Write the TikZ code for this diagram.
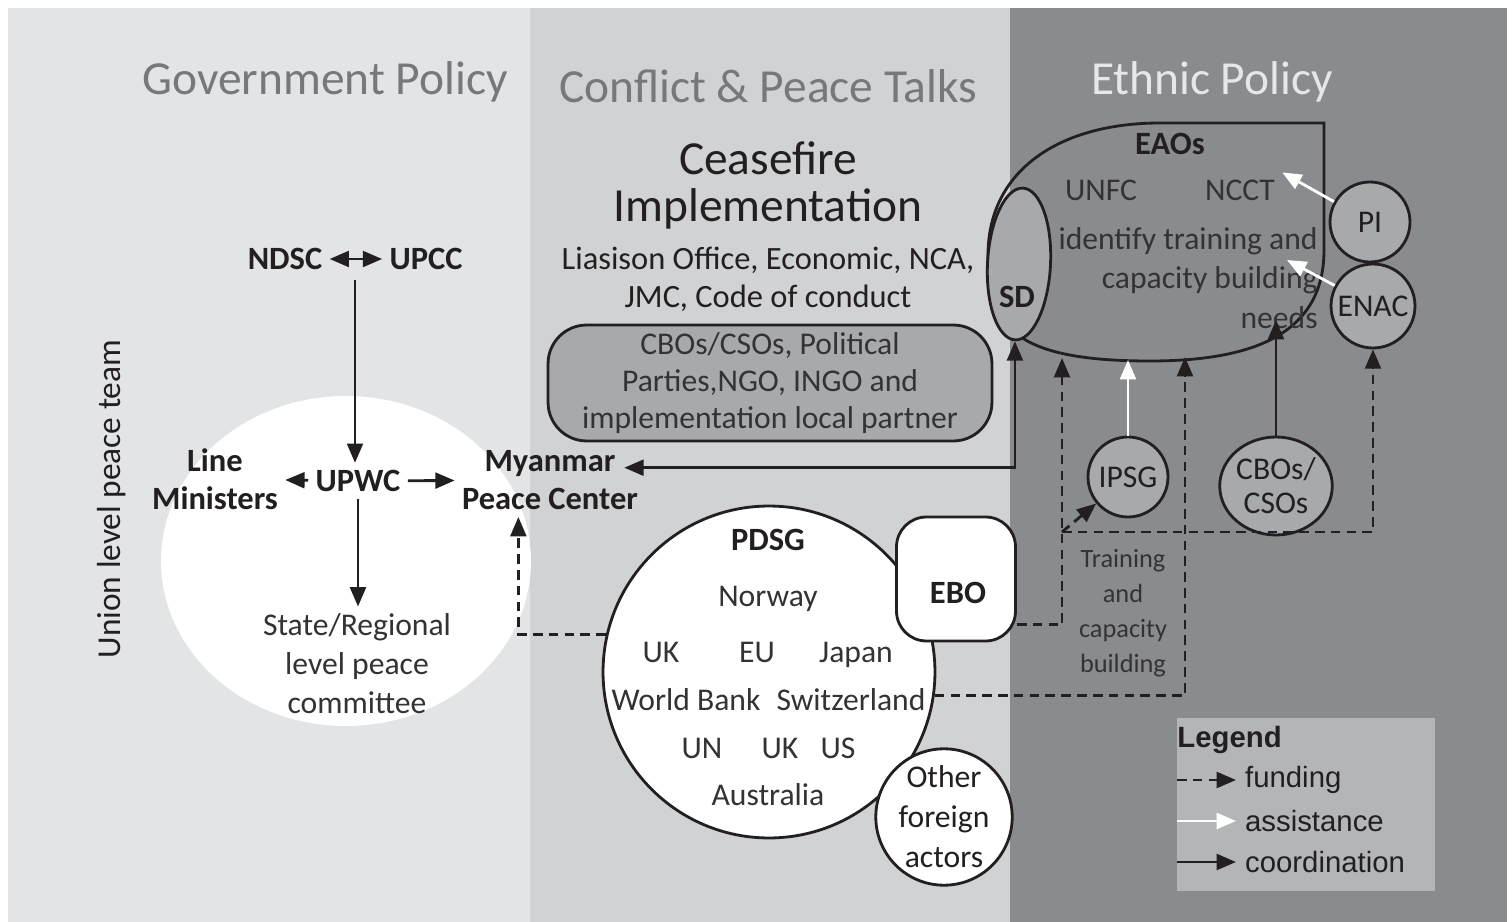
\documentclass[tikz,border=0pt]{standalone}
\usepackage{fontspec}
\setmainfont{Carlito}
\newfontfamily\legendfont{Liberation Sans}
\usetikzlibrary{arrows.meta,shapes.geometric}

\definecolor{ink}{HTML}{231F20}
\definecolor{softink}{HTML}{333335}
\definecolor{govgrey}{HTML}{E3E4E6}
\definecolor{talkgrey}{HTML}{D1D2D4}
\definecolor{ethgrey}{HTML}{8A8B8F}
\definecolor{midgrey}{HTML}{A8A9AC}
\definecolor{legendgrey}{HTML}{B4B5B8}
\definecolor{titlegrey}{HTML}{77787B}
\definecolor{titlelight}{HTML}{E6E7E8}

\begin{document}
\begin{tikzpicture}[x=0.02cm,y=-0.02cm,
	>={Triangle[length=11pt,width=9pt]},
	panel title/.style = {font=\fontsize{27}{27}\selectfont},
	bold node/.style = {font=\fontsize{18.5}{21.6}\selectfont\bfseries, text=ink, align=center, inner sep=4pt},
	thin node/.style = {font=\fontsize{18}{22.2}\selectfont, text=softink, align=center, inner sep=4pt},
	donor/.style = {thin node, text height=11.6pt, text depth=0pt},
	party node/.style = {circle, draw=ink, line width=1.6pt, fill=midgrey, inner sep=0pt,
		font=\fontsize{18}{19.5}\selectfont, text=ink, align=center},
	legend entry/.style = {font=\legendfont\fontsize{16.7}{18}\selectfont, text=ink, anchor=west, inner sep=5pt},
	coordarrow/.style = {->, draw=ink, line width=1.6pt},
	fundarrow/.style = {->, draw=ink, line width=1.6pt, dash pattern=on 5.5pt off 3.5pt},
	assistarrow/.style = {->, draw=white, line width=1.6pt}]

	\useasboundingbox (0,0) rectangle (1512,922);
	\fill[govgrey] (8,8) rectangle (530,922);
	\fill[talkgrey] (530,8) rectangle (1010,922);
	\fill[ethgrey] (1010,8) rectangle (1507,922);

	\node[panel title, text=titlegrey] (govt) at (325,82) {Government Policy};
	\node[panel title, text=titlegrey] (talks) at (768,86) {Conflict \& Peace Talks};
	\node[panel title, text=titlelight] (ethnic) at (1212,82) {Ethnic Policy};

	% government side
	\node[ellipse, fill=white, minimum width=7.4cm, minimum height=6.6cm] (union) at (346,561) {};
	\node[rotate=90, font=\fontsize{19}{19}\selectfont, text=ink] (team) at (112,499) {Union level peace team};
	\node[bold node] (ndsc) at (285,259) {NDSC};
	\node[bold node] (upcc) at (426,259) {UPCC};
	\coordinate (pair) at (355,280);
	\node[bold node] (upwc) at (358,481) {UPWC};
	\node[bold node] (line) at (215,479) {Line\\Ministers};
	\node[bold node] (mpc) at (550,480) {Myanmar\\Peace Center};
	\node[thin node] (state) at (357,664) {State/Regional\\level peace\\committee};

	% peace talks
	\node[panel title, text=ink, align=center, font=\fontsize{27}{26.7}\selectfont] (cease) at (768,185) {Ceasefire\\Implementation};
	\node[font=\fontsize{18.5}{21.6}\selectfont, text=ink, align=center] (liaison) at (768,279) {Liasison Office, Economic, NCA,\\JMC, Code of conduct};
	\node[thin node, draw=ink, line width=1.6pt, fill=midgrey, rounded corners=22pt,
		minimum width=8.88cm, minimum height=2.3cm, font=\fontsize{18}{21.3}\selectfont] (cso) at (770,383)
		{CBOs/CSOs, Political\\Parties,NGO, INGO and\\implementation local partner};

	% ethnic side
	\draw[ink, line width=1.6pt] (1324,123) -- (1324,250) .. controls (1324,330) and (1260,361) .. (1150,361)
		.. controls (1020,361) and (986,330) .. (988,255) .. controls (988,170) and (1060,123) .. (1160,123) -- cycle;
	\node[ellipse, draw=ink, line width=1.6pt, fill=midgrey, minimum width=1.26cm, minimum height=3.04cm, rotate=-3] (sd) at (1019,264) {};
	\node[bold node] (sdlbl) at (1017,297) {SD};
	\node[bold node] (eaolbl) at (1170,144) {EAOs};
	\node[donor] (unfc) at (1101,190) {UNFC};
	\node[donor] (ncct) at (1240,190) {NCCT};
	\node[thin node, align=right, anchor=east, font=\fontsize{18}{22.5}\selectfont] (needs) at (1325,278) {identify training and\\capacity building\\needs};
	\coordinate (eaoA) at (1062,358);
	\coordinate (eaoB) at (1128,360);
	\coordinate (eaoC) at (1185,357);
	\coordinate (needsin) at (1276,320);
	\coordinate (bldin) at (1287,260);

	\node[party node, minimum size=1.6cm] (pi) at (1370,222) {PI};
	\node[party node, minimum size=1.68cm] (enac) at (1373,306) {ENAC};
	\node[party node, minimum size=1.6cm] (ipsg) at (1128,477) {IPSG};
	\node[party node, ellipse, minimum width=2.16cm, minimum height=1.96cm] (cbos) at (1276,486) {CBOs/\\CSOs};
	\node[font=\fontsize{15}{20}\selectfont, text=softink, align=center] (train) at (1123,613) {Training\\and\\capacity\\building};

	% donors
	\node[circle, draw=ink, line width=1.6pt, fill=white, minimum size=6.64cm] (pdsg) at (769,672) {};
	\node[bold node] (pdsglbl) at (768,540) {PDSG};
	\node[donor] (norway) at (768,596) {Norway};
	\node[donor] (uka) at (661,652) {UK};
	\node[donor] (eu) at (757,652) {EU};
	\node[donor] (japan) at (856,652) {Japan};
	\node[donor] (wb) at (686,700) {World Bank};
	\node[donor] (swiss) at (851,700) {Switzerland};
	\node[donor] (un) at (702,748) {UN};
	\node[donor] (ukb) at (780,748) {UK};
	\node[donor] (us) at (838,748) {US};
	\node[donor] (aus) at (768,795) {Australia};
	\node[draw=ink, line width=1.6pt, fill=white, rounded corners=17pt,
		minimum width=2.38cm, minimum height=2.48cm] (ebo) at (956,579) {};
	\node[bold node] (ebolbl) at (958,593) {EBO};
	\node[circle, draw=ink, line width=1.6pt, fill=white, minimum size=2.6cm, inner sep=0pt,
		font=\fontsize{18}{22.8}\selectfont, text=ink, align=center] (other) at (944,817) {Other\\foreign\\actors};

	% links
	\draw[coordarrow,<->] (ndsc) -- (upcc);
	\draw[coordarrow] (pair) -- (pair |- upwc.north);
	\draw[coordarrow] (upwc) -- (line);
	\draw[coordarrow] (upwc) -- (mpc);
	\draw[coordarrow] (upwc) -- (upwc |- state.north);
	\draw[coordarrow,<->] ([xshift=-12pt,yshift=7pt]mpc.east) -| (sd.south);
	\draw[coordarrow] (cbos) -- (cbos |- needsin);
	\draw[assistarrow] (pi) -- (ncct.north east);
	\draw[assistarrow] (enac) -- (bldin);
	\draw[assistarrow] (ipsg) -- (ipsg |- eaoB);

	\coordinate (split) at (1062,532);
	\draw[fundarrow] (pdsg.167) -| ([xshift=-18pt]mpc.south);
	\draw[fundarrow] (ebo.-37) -| (eaoA);
	\draw[fundarrow] (split) -- (ipsg);
	\draw[fundarrow] (split) -| (enac);
	\draw[fundarrow] (pdsg.-8) -| (eaoC);

	% legend
	\node[fill=legendgrey, minimum width=5.16cm, minimum height=3.46cm] (legend) at (1306,804.5) {};
	\node[legend entry, inner sep=0pt, font=\legendfont\bfseries\fontsize{16.7}{18}\selectfont] (legtitle) at (1177,740) {Legend};
	\node[legend entry] (lfund) at (1236,780) {funding};
	\node[legend entry] (lassist) at (1236,821) {assistance};
	\node[legend entry] (lcoord) at (1236,862) {coordination};
	\coordinate (lfund0) at (1177,780);
	\coordinate (lassist0) at (1177,821);
	\coordinate (lcoord0) at (1177,862);
	\draw[fundarrow] (lfund0) -- (lfund.west);
	\draw[assistarrow] (lassist0) -- (lassist.west);
	\draw[coordarrow] (lcoord0) -- (lcoord.west);

\end{tikzpicture}
\end{document}
